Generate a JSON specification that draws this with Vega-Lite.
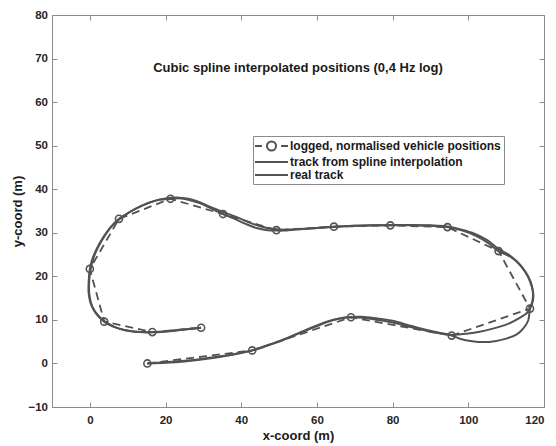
{
  "$schema": "https://vega.github.io/schema/vega-lite/v6.json",
  "width": 492,
  "height": 392,
  "autosize": {"type": "none"},
  "padding": {"left": 52, "top": 15, "right": 12, "bottom": 39},
  "background": "white",
  "title": {
    "text": "Cubic spline interpolated positions (0,4 Hz log)",
    "frame": "group",
    "anchor": "middle",
    "offset": -72,
    "baseline": "middle",
    "font": "Liberation Sans",
    "fontSize": 13,
    "fontWeight": "bold",
    "color": "#1a1a1a"
  },
  "config": {
    "view": {"stroke": null},
    "axis": {
      "grid": false,
      "domainColor": "#8c8c8c",
      "tickColor": "#8c8c8c",
      "tickSize": -5,
      "labelFont": "Liberation Sans",
      "labelFontSize": 11.5,
      "labelFontWeight": "bold",
      "labelColor": "#262626",
      "titleFont": "Liberation Sans",
      "titleFontSize": 13,
      "titleFontWeight": "bold",
      "titleColor": "#1a1a1a"
    }
  },
  "datasets": {
    "pts": [
      {"series": "track from spline interpolation", "i": 0, "x": 15.2, "y": 0},
      {"series": "track from spline interpolation", "i": 1, "x": 20, "y": 0.25},
      {"series": "track from spline interpolation", "i": 2, "x": 25, "y": 0.6},
      {"series": "track from spline interpolation", "i": 3, "x": 30, "y": 1.1},
      {"series": "track from spline interpolation", "i": 4, "x": 35, "y": 1.7},
      {"series": "track from spline interpolation", "i": 5, "x": 40, "y": 2.5},
      {"series": "track from spline interpolation", "i": 6, "x": 42.9, "y": 3.0},
      {"series": "track from spline interpolation", "i": 7, "x": 46, "y": 3.9},
      {"series": "track from spline interpolation", "i": 8, "x": 50, "y": 5.1},
      {"series": "track from spline interpolation", "i": 9, "x": 55, "y": 6.9},
      {"series": "track from spline interpolation", "i": 10, "x": 60, "y": 8.7},
      {"series": "track from spline interpolation", "i": 11, "x": 64, "y": 9.9},
      {"series": "track from spline interpolation", "i": 12, "x": 67, "y": 10.5},
      {"series": "track from spline interpolation", "i": 13, "x": 69, "y": 10.6},
      {"series": "track from spline interpolation", "i": 14, "x": 72, "y": 10.5},
      {"series": "track from spline interpolation", "i": 15, "x": 76, "y": 10.0},
      {"series": "track from spline interpolation", "i": 16, "x": 80, "y": 9.4},
      {"series": "track from spline interpolation", "i": 17, "x": 85, "y": 8.3},
      {"series": "track from spline interpolation", "i": 18, "x": 90, "y": 7.3},
      {"series": "track from spline interpolation", "i": 19, "x": 95.6, "y": 6.4},
      {"series": "track from spline interpolation", "i": 20, "x": 98, "y": 5.6},
      {"series": "track from spline interpolation", "i": 21, "x": 101, "y": 5.1},
      {"series": "track from spline interpolation", "i": 22, "x": 104, "y": 4.9},
      {"series": "track from spline interpolation", "i": 23, "x": 107, "y": 5.1},
      {"series": "track from spline interpolation", "i": 24, "x": 110, "y": 5.7},
      {"series": "track from spline interpolation", "i": 25, "x": 112.7, "y": 6.6},
      {"series": "track from spline interpolation", "i": 26, "x": 114.5, "y": 8.0},
      {"series": "track from spline interpolation", "i": 27, "x": 115.8, "y": 9.8},
      {"series": "track from spline interpolation", "i": 28, "x": 116.3, "y": 12.6},
      {"series": "track from spline interpolation", "i": 29, "x": 116.9, "y": 14.2},
      {"series": "track from spline interpolation", "i": 30, "x": 117.1, "y": 15.8},
      {"series": "track from spline interpolation", "i": 31, "x": 116.8, "y": 17.8},
      {"series": "track from spline interpolation", "i": 32, "x": 115.8, "y": 20},
      {"series": "track from spline interpolation", "i": 33, "x": 114, "y": 22.3},
      {"series": "track from spline interpolation", "i": 34, "x": 111.5, "y": 24.3},
      {"series": "track from spline interpolation", "i": 35, "x": 108, "y": 25.8},
      {"series": "track from spline interpolation", "i": 36, "x": 105, "y": 27.8},
      {"series": "track from spline interpolation", "i": 37, "x": 102, "y": 29.3},
      {"series": "track from spline interpolation", "i": 38, "x": 98.5, "y": 30.5},
      {"series": "track from spline interpolation", "i": 39, "x": 94.5, "y": 31.3},
      {"series": "track from spline interpolation", "i": 40, "x": 90, "y": 31.6},
      {"series": "track from spline interpolation", "i": 41, "x": 85, "y": 31.75},
      {"series": "track from spline interpolation", "i": 42, "x": 79.4, "y": 31.7},
      {"series": "track from spline interpolation", "i": 43, "x": 75, "y": 31.7},
      {"series": "track from spline interpolation", "i": 44, "x": 70, "y": 31.6},
      {"series": "track from spline interpolation", "i": 45, "x": 64.5, "y": 31.4},
      {"series": "track from spline interpolation", "i": 46, "x": 60, "y": 31.1},
      {"series": "track from spline interpolation", "i": 47, "x": 55, "y": 30.8},
      {"series": "track from spline interpolation", "i": 48, "x": 51, "y": 30.5},
      {"series": "track from spline interpolation", "i": 49, "x": 49.3, "y": 30.5},
      {"series": "track from spline interpolation", "i": 50, "x": 47, "y": 30.6},
      {"series": "track from spline interpolation", "i": 51, "x": 44, "y": 31.1},
      {"series": "track from spline interpolation", "i": 52, "x": 41, "y": 32.1},
      {"series": "track from spline interpolation", "i": 53, "x": 38, "y": 33.3},
      {"series": "track from spline interpolation", "i": 54, "x": 35.2, "y": 34.3},
      {"series": "track from spline interpolation", "i": 55, "x": 32, "y": 35.6},
      {"series": "track from spline interpolation", "i": 56, "x": 29, "y": 36.8},
      {"series": "track from spline interpolation", "i": 57, "x": 26, "y": 37.6},
      {"series": "track from spline interpolation", "i": 58, "x": 23.5, "y": 37.9},
      {"series": "track from spline interpolation", "i": 59, "x": 21.3, "y": 37.8},
      {"series": "track from spline interpolation", "i": 60, "x": 18, "y": 37.5},
      {"series": "track from spline interpolation", "i": 61, "x": 15, "y": 36.7},
      {"series": "track from spline interpolation", "i": 62, "x": 12, "y": 35.5},
      {"series": "track from spline interpolation", "i": 63, "x": 9.5, "y": 34.2},
      {"series": "track from spline interpolation", "i": 64, "x": 7.7, "y": 33.2},
      {"series": "track from spline interpolation", "i": 65, "x": 5.5, "y": 31.3},
      {"series": "track from spline interpolation", "i": 66, "x": 3.5, "y": 28.9},
      {"series": "track from spline interpolation", "i": 67, "x": 1.8, "y": 26.3},
      {"series": "track from spline interpolation", "i": 68, "x": 0.6, "y": 23.8},
      {"series": "track from spline interpolation", "i": 69, "x": 0, "y": 21.7},
      {"series": "track from spline interpolation", "i": 70, "x": -0.3, "y": 19},
      {"series": "track from spline interpolation", "i": 71, "x": -0.3, "y": 16},
      {"series": "track from spline interpolation", "i": 72, "x": 0.3, "y": 13.6},
      {"series": "track from spline interpolation", "i": 73, "x": 1.6, "y": 11.5},
      {"series": "track from spline interpolation", "i": 74, "x": 3.8, "y": 9.6},
      {"series": "track from spline interpolation", "i": 75, "x": 6, "y": 8.5},
      {"series": "track from spline interpolation", "i": 76, "x": 9, "y": 7.7},
      {"series": "track from spline interpolation", "i": 77, "x": 12, "y": 7.3},
      {"series": "track from spline interpolation", "i": 78, "x": 16.5, "y": 7.2},
      {"series": "track from spline interpolation", "i": 79, "x": 20, "y": 7.4},
      {"series": "track from spline interpolation", "i": 80, "x": 25, "y": 7.8},
      {"series": "track from spline interpolation", "i": 81, "x": 29.4, "y": 8.2},

      {"series": "real track", "i": 0, "x": 15.2, "y": 0},
      {"series": "real track", "i": 1, "x": 20, "y": 0.15},
      {"series": "real track", "i": 2, "x": 25, "y": 0.45},
      {"series": "real track", "i": 3, "x": 30, "y": 0.95},
      {"series": "real track", "i": 4, "x": 35, "y": 1.6},
      {"series": "real track", "i": 5, "x": 40, "y": 2.4},
      {"series": "real track", "i": 6, "x": 43, "y": 3.0},
      {"series": "real track", "i": 7, "x": 46, "y": 3.8},
      {"series": "real track", "i": 8, "x": 50, "y": 5.0},
      {"series": "real track", "i": 9, "x": 55, "y": 6.8},
      {"series": "real track", "i": 10, "x": 60, "y": 8.6},
      {"series": "real track", "i": 11, "x": 64, "y": 9.9},
      {"series": "real track", "i": 12, "x": 68, "y": 10.6},
      {"series": "real track", "i": 13, "x": 72, "y": 10.7},
      {"series": "real track", "i": 14, "x": 76, "y": 10.3},
      {"series": "real track", "i": 15, "x": 80, "y": 9.8},
      {"series": "real track", "i": 16, "x": 85, "y": 8.6},
      {"series": "real track", "i": 17, "x": 90, "y": 7.5},
      {"series": "real track", "i": 18, "x": 95.6, "y": 6.6},
      {"series": "real track", "i": 19, "x": 100, "y": 6.9},
      {"series": "real track", "i": 20, "x": 103, "y": 7.3},
      {"series": "real track", "i": 21, "x": 106.5, "y": 8.0},
      {"series": "real track", "i": 22, "x": 110, "y": 8.9},
      {"series": "real track", "i": 23, "x": 113, "y": 10.2},
      {"series": "real track", "i": 24, "x": 115.5, "y": 11.6},
      {"series": "real track", "i": 25, "x": 116.3, "y": 12.6},
      {"series": "real track", "i": 26, "x": 117.1, "y": 14.5},
      {"series": "real track", "i": 27, "x": 117.1, "y": 16.5},
      {"series": "real track", "i": 28, "x": 116.4, "y": 18.6},
      {"series": "real track", "i": 29, "x": 115.2, "y": 20.8},
      {"series": "real track", "i": 30, "x": 113.3, "y": 23},
      {"series": "real track", "i": 31, "x": 110.8, "y": 24.9},
      {"series": "real track", "i": 32, "x": 108, "y": 26.3},
      {"series": "real track", "i": 33, "x": 105, "y": 28.3},
      {"series": "real track", "i": 34, "x": 101, "y": 30},
      {"series": "real track", "i": 35, "x": 97, "y": 31},
      {"series": "real track", "i": 36, "x": 94, "y": 31.5},
      {"series": "real track", "i": 37, "x": 90, "y": 31.7},
      {"series": "real track", "i": 38, "x": 85, "y": 31.8},
      {"series": "real track", "i": 39, "x": 80, "y": 31.8},
      {"series": "real track", "i": 40, "x": 75, "y": 31.7},
      {"series": "real track", "i": 41, "x": 70, "y": 31.6},
      {"series": "real track", "i": 42, "x": 65, "y": 31.4},
      {"series": "real track", "i": 43, "x": 60, "y": 31.1},
      {"series": "real track", "i": 44, "x": 55, "y": 30.8},
      {"series": "real track", "i": 45, "x": 51, "y": 30.7},
      {"series": "real track", "i": 46, "x": 48, "y": 30.9},
      {"series": "real track", "i": 47, "x": 45, "y": 31.5},
      {"series": "real track", "i": 48, "x": 42, "y": 32.4},
      {"series": "real track", "i": 49, "x": 39, "y": 33.5},
      {"series": "real track", "i": 50, "x": 36, "y": 34.5},
      {"series": "real track", "i": 51, "x": 32, "y": 35.9},
      {"series": "real track", "i": 52, "x": 29, "y": 37.0},
      {"series": "real track", "i": 53, "x": 26, "y": 37.8},
      {"series": "real track", "i": 54, "x": 23, "y": 38.1},
      {"series": "real track", "i": 55, "x": 20, "y": 37.9},
      {"series": "real track", "i": 56, "x": 17, "y": 37.3},
      {"series": "real track", "i": 57, "x": 14, "y": 36.3},
      {"series": "real track", "i": 58, "x": 11, "y": 35.0},
      {"series": "real track", "i": 59, "x": 8.5, "y": 33.6},
      {"series": "real track", "i": 60, "x": 6, "y": 31.7},
      {"series": "real track", "i": 61, "x": 4, "y": 29.4},
      {"series": "real track", "i": 62, "x": 2.3, "y": 26.9},
      {"series": "real track", "i": 63, "x": 1, "y": 24.3},
      {"series": "real track", "i": 64, "x": 0.2, "y": 21.6},
      {"series": "real track", "i": 65, "x": -0.2, "y": 18.5},
      {"series": "real track", "i": 66, "x": -0.1, "y": 15.6},
      {"series": "real track", "i": 67, "x": 0.6, "y": 13.1},
      {"series": "real track", "i": 68, "x": 2, "y": 11.2},
      {"series": "real track", "i": 69, "x": 4, "y": 9.6},
      {"series": "real track", "i": 70, "x": 6.5, "y": 8.4},
      {"series": "real track", "i": 71, "x": 9.5, "y": 7.6},
      {"series": "real track", "i": 72, "x": 13, "y": 7.2},
      {"series": "real track", "i": 73, "x": 17, "y": 7.15},
      {"series": "real track", "i": 74, "x": 21, "y": 7.4},
      {"series": "real track", "i": 75, "x": 25, "y": 7.8},
      {"series": "real track", "i": 76, "x": 29.4, "y": 8.2},

      {"series": "logged, normalised vehicle positions", "i": 0, "x": 15.2, "y": 0},
      {"series": "logged, normalised vehicle positions", "i": 1, "x": 42.9, "y": 3.0},
      {"series": "logged, normalised vehicle positions", "i": 2, "x": 69, "y": 10.6},
      {"series": "logged, normalised vehicle positions", "i": 3, "x": 95.6, "y": 6.4},
      {"series": "logged, normalised vehicle positions", "i": 4, "x": 116.3, "y": 12.6},
      {"series": "logged, normalised vehicle positions", "i": 5, "x": 108, "y": 25.8},
      {"series": "logged, normalised vehicle positions", "i": 6, "x": 94.5, "y": 31.3},
      {"series": "logged, normalised vehicle positions", "i": 7, "x": 79.4, "y": 31.7},
      {"series": "logged, normalised vehicle positions", "i": 8, "x": 64.5, "y": 31.4},
      {"series": "logged, normalised vehicle positions", "i": 9, "x": 49.3, "y": 30.6},
      {"series": "logged, normalised vehicle positions", "i": 10, "x": 35.2, "y": 34.3},
      {"series": "logged, normalised vehicle positions", "i": 11, "x": 21.3, "y": 37.8},
      {"series": "logged, normalised vehicle positions", "i": 12, "x": 7.7, "y": 33.2},
      {"series": "logged, normalised vehicle positions", "i": 13, "x": 0, "y": 21.7},
      {"series": "logged, normalised vehicle positions", "i": 14, "x": 3.8, "y": 9.6},
      {"series": "logged, normalised vehicle positions", "i": 15, "x": 16.5, "y": 7.2},
      {"series": "logged, normalised vehicle positions", "i": 16, "x": 29.4, "y": 8.2}
    ]
  },
  "data": {"name": "pts"},
  "layer": [
    {
      "transform": [{"filter": "datum.series !== 'logged, normalised vehicle positions'"}],
      "mark": {"type": "line", "strokeWidth": 2, "interpolate": "catmull-rom"},
      "encoding": {
        "x": {
          "field": "x", "type": "quantitative",
          "scale": {"domain": [-10, 120], "nice": false, "zero": false},
          "axis": {"orient": "bottom", "title": "x-coord (m)", "values": [0, 20, 40, 60, 80, 100, 120], "labelPadding": 12, "titlePadding": 4}
        },
        "y": {
          "field": "y", "type": "quantitative",
          "scale": {"domain": [-10, 80], "nice": false, "zero": false},
          "axis": {"orient": "left", "title": "y-coord (m)", "values": [-10, 0, 10, 20, 30, 40, 50, 60, 70, 80], "labelPadding": 9.5, "titlePadding": 3}
        },
        "order": {"field": "i", "type": "quantitative"},
        "color": {
          "field": "series", "type": "nominal",
          "scale": {
            "domain": ["logged, normalised vehicle positions", "track from spline interpolation", "real track"],
            "range": ["#525252", "#525252", "#525252"]
          },
          "legend": {
            "orient": "none",
            "legendX": 201,
            "legendY": 121,
            "title": null,
            "symbolType": "stroke",
            "symbolSize": 144,
            "symbolOffset": 8.5,
            "symbolStrokeWidth": 2,
            "symbolStrokeColor": "#525252",
            "labelFont": "Liberation Sans",
            "labelFontSize": 12,
            "labelFontWeight": "bold",
            "labelColor": "#1a1a1a",
            "labelOffset": 11.5,
            "labelLimit": 400,
            "strokeColor": "#8c8c8c",
            "fillColor": "white",
            "padding": 3,
            "rowPadding": 0,
            "encode": {
              "symbols": {
                "update": {
                  "shape": {"signal": "datum.value === 'logged, normalised vehicle positions' ? 'M-2.75,0H-1.6M-0.75,0A0.75,0.75 0 1,1 0.75,0A0.75,0.75 0 1,1 -0.75,0M1.6,0H2.75' : 'M-2.75,0H2.75'"},
                  "fill": {"value": "transparent"}
                }
              }
            }
          }
        }
      }
    },
    {
      "transform": [{"filter": "datum.series === 'logged, normalised vehicle positions'"}],
      "mark": {"type": "line", "strokeWidth": 1.8, "strokeDash": [8, 5], "color": "#525252"},
      "encoding": {
        "x": {"field": "x", "type": "quantitative", "axis": {"orient": "top", "title": null, "labels": false, "values": [-10, 0, 20, 40, 60, 80, 100, 120]}},
        "y": {"field": "y", "type": "quantitative", "axis": {"orient": "right", "title": null, "labels": false, "values": [-10, 0, 10, 20, 30, 40, 50, 60, 70, 80]}},
        "order": {"field": "i", "type": "quantitative"}
      }
    },
    {
      "transform": [{"filter": "datum.series === 'logged, normalised vehicle positions'"}],
      "mark": {"type": "point", "shape": "circle", "filled": false, "size": 50, "strokeWidth": 1.6, "color": "#525252", "opacity": 1},
      "encoding": {
        "x": {"field": "x", "type": "quantitative", "axis": null},
        "y": {"field": "y", "type": "quantitative", "axis": null}
      }
    }
  ],
  "resolve": {"axis": {"x": "independent", "y": "independent"}}
}
